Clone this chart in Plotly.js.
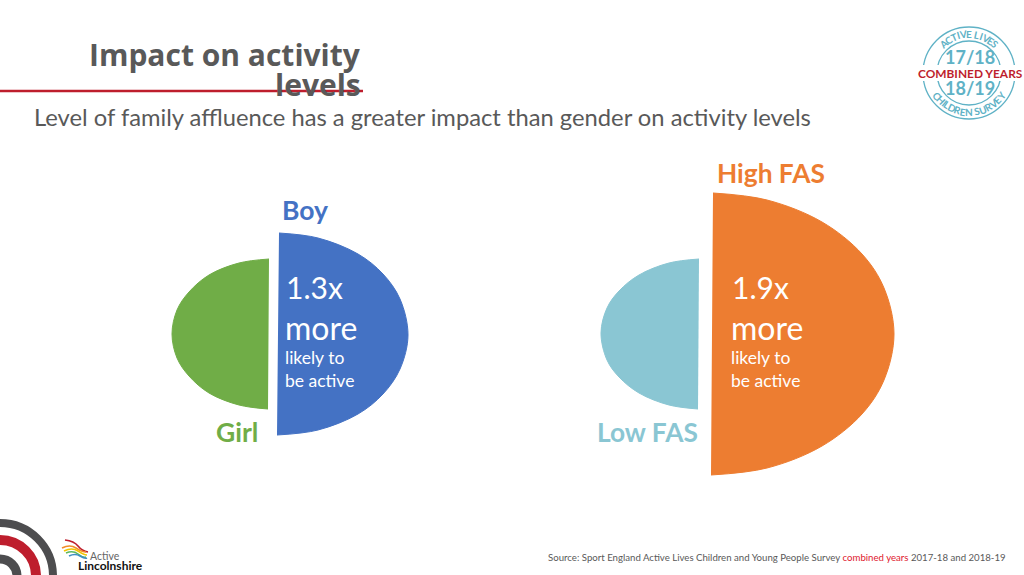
<!DOCTYPE html>
<html><head><meta charset="utf-8">
<script src="https://cdn.plot.ly/plotly-3.0.1.min.js"></script>
<style>html,body{margin:0;padding:0;background:#fff}#c{width:1024px;height:575px}</style>
</head><body><div id="c"></div>
<script>
// Half-shape outlines
const girlX=[269,239,209,189,177,172,177,189,209,239,268];
const girlY=[259,263,275,292,310,334,358,376,393,405,409];
const boyX=[279,318,358,383,400,408,400,383,358,318,277];
const boyY=[233,238,254,274,299,335,369,394,414,430,435];
const lowX=[699,669,639,619,607,601,607,619,639,669,698];
const lowY=[259,263,275,291,308,333,360,377,393,405,409];
const highX=[713,767,822,862,884,894,884,862,822,767,711];
const highY=[193,200,222,254,288,334,380,414,446,468,475];
const GREY='#595959',BLUE='#4472C4',GREEN='#70AD47',ORANGE='#ED7D31',TEAL='#8AC6D3',RING='#5FB2C6',RED='#BE1E2D';
function half(x,y,c,n){return {type:'scatter',mode:'lines',x:x,y:y,name:n,fill:'toself',fillcolor:c,
  line:{color:c,width:1,shape:'spline',smoothing:1},hoverinfo:'name'};}
const traces=[half(girlX,girlY,GREEN,'Girl'),half(boyX,boyY,BLUE,'Boy'),half(lowX,lowY,TEAL,'Low FAS'),half(highX,highY,ORANGE,'High FAS')];
function t(x,y,text,size,color,anchor,fam,bold){
  const a=anchor||'left';
  return {x:a==='left'?x-2:(a==='right'?x+2:x),y:y-1,xref:'x',yref:'y',text:bold?'<b>'+text+'</b>':text,showarrow:false,
  xanchor:a,yanchor:'middle',align:a,font:{family:fam||'Lato',size:size,color:color}};}
const anns=[
 t(361,55,'Impact on activity',30,GREY,'right','Open Sans',true),
 t(361,85,'levels',30,GREY,'right','Open Sans',true),
 t(34,118,'Level of family affluence has a greater impact than gender on activity levels',23.75,GREY),
 t(282,211,'Boy',26.5,BLUE,'left','Lato',true),
 t(216,433,'Girl',26.5,GREEN,'left','Lato',true),
 t(717,174,'High FAS',26.3,ORANGE,'left','Lato',true),
 t(597,433,'Low FAS',26.3,TEAL,'left','Lato',true),
 t(286,288,'1.3x',30,'#fff'),t(285,328,'more',32,'#fff'),t(285,358,'likely to',17.5,'#fff'),t(285,381,'be active',17.5,'#fff'),
 t(732,288,'1.9x',30,'#fff'),t(731,328,'more',32,'#fff'),t(731,358,'likely to',17.5,'#fff'),t(731,381,'be active',17.5,'#fff'),
 t(548,558,'Source: Sport England Active Lives Children and Young People Survey <span style="color:#E0202E">combined years</span> 2017-18 and 2018-19',9.65,GREY),
 t(970,58,'17/18',18,RING,'center','Lato',true),
 t(970,89,'18/19',18,RING,'center','Lato',true),
 t(970,74,'COMBINED YEARS',11.9,RED,'center','Lato',true),
 t(90,557,'Active',10.5,'#666'),
 t(78,566,'Lincolnshire',12,'#111','left','Lato',true)
];
const WIDE={I:0.45,' ':0.5,L:0.8,E:0.85,S:0.85,M:1.2,W:1.3};
function curved(str,cx,cy,r,span,top){
  const w=[...str].map(c=>WIDE[c]||1), tot=w.reduce((a,b)=>a+b,0);
  let acc=0;
  [...str].forEach((ch,i)=>{
    const mid=acc+w[i]/2; acc+=w[i];
    const a=(-span/2+span*mid/tot)*Math.PI/180;
    const x=cx+r*Math.sin(a), y=top?cy-r*Math.cos(a):cy+r*Math.cos(a);
    const rot=(top?a:-a)*180/Math.PI;
    anns.push({x:x,y:y,xref:'x',yref:'y',text:'<b>'+ch+'</b>',showarrow:false,textangle:rot,xanchor:'center',yanchor:'middle',
      font:{family:'Lato',size:10,color:RING}});
  });
}
curved('ACTIVE LIVES',969,73,39,92,true);
curved('CHILDREN SURVEY',969,73,39,118,false);
function ring(cx,cy,r,c,w){return {type:'circle',xref:'x',yref:'y',x0:cx-r,x1:cx+r,y0:cy-r,y1:cy+r,line:{color:c,width:w},fillcolor:'rgba(0,0,0,0)',layer:'below'};}
function swoosh(d,c){return {type:'path',path:d,xref:'x',yref:'y',line:{color:c,width:1.6},layer:'below'};}
const shapes=[
 {type:'line',xref:'x',yref:'y',x0:0,x1:363,y0:91,y1:91,line:{color:'#BE1E2D',width:2.4},layer:'below'},
 ring(969,73,46,RING,1.3),ring(969,73,32,RING,1.3),
 {type:'rect',xref:'x',yref:'y',x0:915,x1:1024,y0:65,y1:81,fillcolor:'#fff',line:{width:0},layer:'below'},
 ring(0,576,53,'#4D4D4F',8),ring(0,576,36,RED,10),ring(0,576,17,'#4D4D4F',9),
 swoosh('M65 540 Q74 541 78 546 T88 552','#BE1E2D'),
 swoosh('M62 548 Q70 544 76 548 T86 552','#F28C28'),
 swoosh('M64 551 Q72 547 78 551 T87 555','#F2C500'),
 swoosh('M66 553 Q73 550 78 554 T86 557','#5CB85C'),
 swoosh('M69 556 Q75 553 80 556 T87 558','#3E8EC4')
];
const axis={visible:false,fixedrange:true,showgrid:false,zeroline:false};
Plotly.newPlot('c',traces,{
  width:1024,height:575,margin:{l:0,r:0,t:0,b:0},paper_bgcolor:'#fff',plot_bgcolor:'#fff',showlegend:false,
  xaxis:Object.assign({},axis,{range:[0,1024]}),
  yaxis:Object.assign({},axis,{range:[575,0]}),
  annotations:anns,shapes:shapes
},{displayModeBar:false,staticPlot:true});
</script></body></html>
